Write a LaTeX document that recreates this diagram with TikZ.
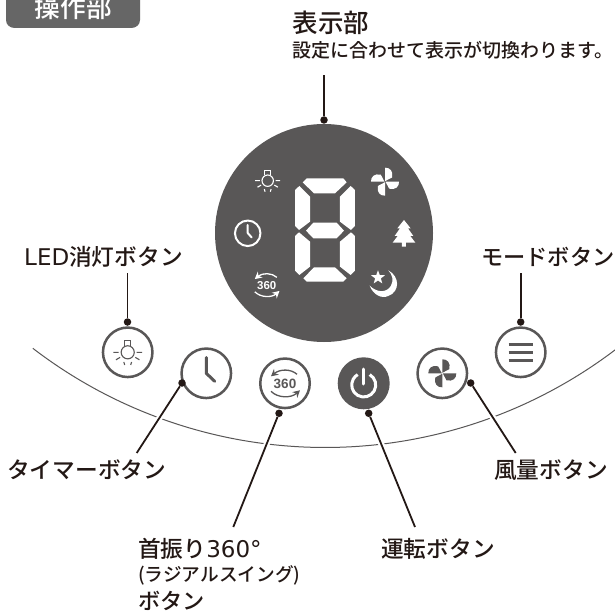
\documentclass[tikz,border=0pt]{standalone}
\usepackage{fontspec}
\setmainfont{Noto Sans CJK JP Medium}
\setsansfont{Liberation Sans}
\newfontfamily\latinlbl{DejaVu Sans}
\usetikzlibrary{arrows.meta,shapes.geometric,calc}
\definecolor{ink}{HTML}{595757}
\definecolor{leader}{HTML}{231815}
\definecolor{tabgray}{HTML}{666666}
\newcommand{\lblsize}{\fontsize{22.7}{26}\selectfont}
\newcommand{\lat}[1]{{\latinlbl\fontsize{23}{26}\selectfont #1}}
\tikzset{
  x=1pt,y=-1pt,
  btn/.style={circle,draw=ink,line width=2.5pt,fill=white,minimum size=49.5pt,inner sep=0pt},
  btnon/.style={circle,fill=ink,minimum size=52pt,inner sep=0pt},
  dotn/.style={circle,fill=leader,minimum size=7.5pt,inner sep=0pt},
  lead/.style={draw=leader,line width=1.8pt},
  halo/.style={draw=white,line width=6pt,shorten <=14pt},
  lbl/.style={anchor=west,inner sep=0pt,text=leader,font=\lblsize},
  pics/bulbicon/.style={code={
    \draw[#1,line width=1.1pt] (0,0) circle[radius=5.7pt];
    \draw[#1,line width=1.1pt] (-2.8,-5.6) -- (-2.8,-10.5) -- (2.8,-10.5) -- (2.8,-5.6);
    \draw[#1,line width=1.1pt] (-12.5,0) -- (-7.8,0) (7.8,0) -- (12.5,0)
      (-10.2,6.5) -- (-6.6,4.4) (10.2,6.5) -- (6.6,4.4)
      (-3.4,8.4) -- (-2.6,11) (3.4,8.4) -- (2.6,11);
  }},
  pics/fanicon/.style={code={
    \foreach \a in {0,90,180,270}{
      \fill[#1,rotate=\a] (0,-0.5) -- (0,-14) .. controls (5,-14.2) and (8.5,-10.5) .. (7,-4.2) -- cycle;
    }
  }},
  pics/turnicon/.style={code={
    \node[text=#1,inner sep=0pt,font=\sffamily\bfseries\fontsize{13.5}{14}\selectfont,transform shape] (turntext) at (0,0.5) {360};
    \draw[#1,line width=1.3pt,-{Stealth[length=7pt,width=7.5pt]}] (12,-9) .. controls (6,-14.5) and (-5,-14.5) .. (-14,-7);
    \draw[#1,line width=1.3pt,-{Stealth[length=7pt,width=7.5pt]}] (-14,8) .. controls (-7,15) and (6,15) .. (15,7);
  }}
}
\begin{document}
\begin{tikzpicture}
\useasboundingbox (0,0) rectangle (615,612);
\fill[white] (0,0) rectangle (615,612);

% header tab
\begin{scope}
\clip (0,0) rectangle (615,612);
\fill[tabgray] (6,-6) -- (140,-6) -- (140,20) .. controls (140,25) and (136,28) .. (131,28) -- (15,28) .. controls (10,28) and (6,25) .. (6,20) -- cycle;
\node[inner sep=0pt,text=white,font=\fontsize{25.7}{28}\selectfont] (tab) at (73.5,7.5) {操作部};
\end{scope}

% base arc
\draw[ink,line width=1pt] plot[domain=52.8:127.5,samples=80,smooth] ({325+480*cos(\x)},{-32.5+480*sin(\x)});

% display disc
\node[circle,fill=ink,minimum size=218pt,inner sep=0pt] (disc) at (324,233) {};

% seven segments
\begin{scope}[shift={(280,170)},x=0.3333pt,y=-0.3333pt]
\fill[white] (80,25) -- (190,25) -- (200,37) -- (165,70) -- (102,70) -- (68,37) -- cycle;
\fill[white] (45,60) -- (58,48) -- (90,80) -- (90,155) -- (57,180) -- (45,168) -- cycle;
\fill[white] (225,60) -- (212,48) -- (180,80) -- (180,155) -- (213,180) -- (225,168) -- cycle;
\fill[white] (78,182) -- (100,158) -- (170,158) -- (192,182) -- (170,205) -- (100,205) -- cycle;
\fill[white] (45,198) -- (57,187) -- (90,215) -- (90,290) -- (58,315) -- (45,302) -- cycle;
\fill[white] (225,198) -- (213,187) -- (180,215) -- (180,290) -- (212,315) -- (225,302) -- cycle;
\fill[white] (80,335) -- (190,335) -- (200,325) -- (165,292) -- (102,292) -- (70,325) -- cycle;
\end{scope}
\begin{scope}[shift={(200,140)},x=0.3333pt,y=-0.3333pt]
% tree
\fill[white] (612,240) -- (632,265) -- (624,265) -- (640,288) -- (631,288) -- (646,308) -- (618,308) -- (618,320) -- (606,320) -- (606,308) -- (578,308) -- (593,288) -- (584,288) -- (600,265) -- (592,265) -- cycle;
% moon
\fill[white] (565,391) .. controls (600,410) and (600,455) .. (565,468) .. controls (545,477) and (520,465) .. (509,437) .. controls (530,458) and (560,460) .. (573,437) .. controls (581,421) and (578,405) .. (565,391) -- cycle;
\end{scope}
\node[star,star points=5,star point ratio=2.4,fill=white,minimum size=14.5pt,inner sep=0pt] (moonstar) at (378,277.5) {};

% display icons
\pic at (267.7,180.7) {bulbicon=white};
\pic at (385,181.7) {fanicon=white};
\node[circle,draw=white,line width=2pt,minimum size=25.5pt,inner sep=0pt] (dispclock) at (247.7,233.3) {};
\draw[white,line width=2pt,line cap=round,line join=round] (247.7,225) -- (247.7,233) -- (251.7,237.5);
\pic[scale=0.85] at (266.7,285) {turnicon=white};

% buttons
\node[btn] (bled) at (127.7,352.3) {};
\node[btn] (btime) at (206.3,373.3) {};
\node[btn] (bturn) at (285,383.3) {};
\node[btnon] (bpower) at (363.7,383.3) {};
\node[btn] (bfan) at (442.3,373.3) {};
\node[btn] (bmode) at (520.7,352.3) {};

% button icons
\pic[scale=1.15] at (bled) {bulbicon=ink};
\draw[ink,line width=3pt,line cap=round,line join=round] (206.3,357.5) -- (206.3,373.3) -- (214.7,381.3);
\pic at (bturn) {turnicon=ink};
\draw[white,line width=3pt] ($(bpower)+(6,-8.7)$) arc[start angle=60,end angle=-240,radius=12pt];
\draw[white,line width=3pt,line cap=round] (363.7,369) -- (363.7,384);
\pic at (bfan) {fanicon=ink};
\draw[ink,line width=3.2pt] (508.5,344.2) -- (533,344.2) (508.5,352.3) -- (533,352.3) (508.5,360.5) -- (533,360.5);

% anchor dots
\node[dotn] (ddisc) at (324,120) {};
\node[dotn] (dled) at (127.5,322) {};
\node[dotn] (dtime) at (182,383) {};
\node[dotn] (dturn) at (279,413.3) {};
\node[dotn] (dpower) at (368.7,413.3) {};
\node[dotn] (dfan) at (470.7,383) {};
\node[dotn] (dmode) at (520.7,322) {};

% labels
\node[lbl,font=\fontsize{25.5}{28}\selectfont] (tdisc) at (292.5,23) {表示部};
\node[lbl,font=\fontsize{19}{22}\selectfont] (tdiscsub) at (292.5,50) {設定に合わせて表示が切換わります。};
\node[lbl] (tled) at (24,257) {\lat{LED}消灯ボタン};
\node[lbl,font=\fontsize{22.2}{26}\selectfont] (tmode) at (481,257) {モードボタン};
\node[lbl] (ttime) at (7,470) {タイマーボタン};
\node[lbl] (tfan) at (494,470) {風量ボタン};
\node[lbl] (tpower) at (381,549) {運転ボタン};
\node[lbl] (tturn) at (138,549) {首振り\lat{360°}};
\node[lbl,font=\fontsize{18.7}{21}\selectfont] (tturnsub) at (138,575) {(ラジアルスイング)};
\node[lbl,font=\fontsize{22.2}{26}\selectfont] (tturnb) at (138,601) {ボタン};

% free ends
\coordinate (edisc) at (324,75);
\coordinate (eled) at (127.5,273);
\coordinate (emode) at (520.7,273);
\coordinate (etime) at (136.7,453);
\coordinate (eturn) at (233.3,527);
\coordinate (epower) at (415,527);
\coordinate (efan) at (515.7,453);

% leaders
\draw[lead] (ddisc) -- (edisc);
\draw[lead] (dled) -- (eled);
\draw[lead] (dmode) -- (emode);
\draw[halo] (dtime) -- (etime);
\draw[halo] (dturn) -- (eturn);
\draw[halo] (dpower) -- (epower);
\draw[halo] (dfan) -- (efan);
\draw[lead] (dtime) -- (etime);
\draw[lead] (dturn) -- (eturn);
\draw[lead] (dpower) -- (epower);
\draw[lead] (dfan) -- (efan);
\end{tikzpicture}
\end{document}
